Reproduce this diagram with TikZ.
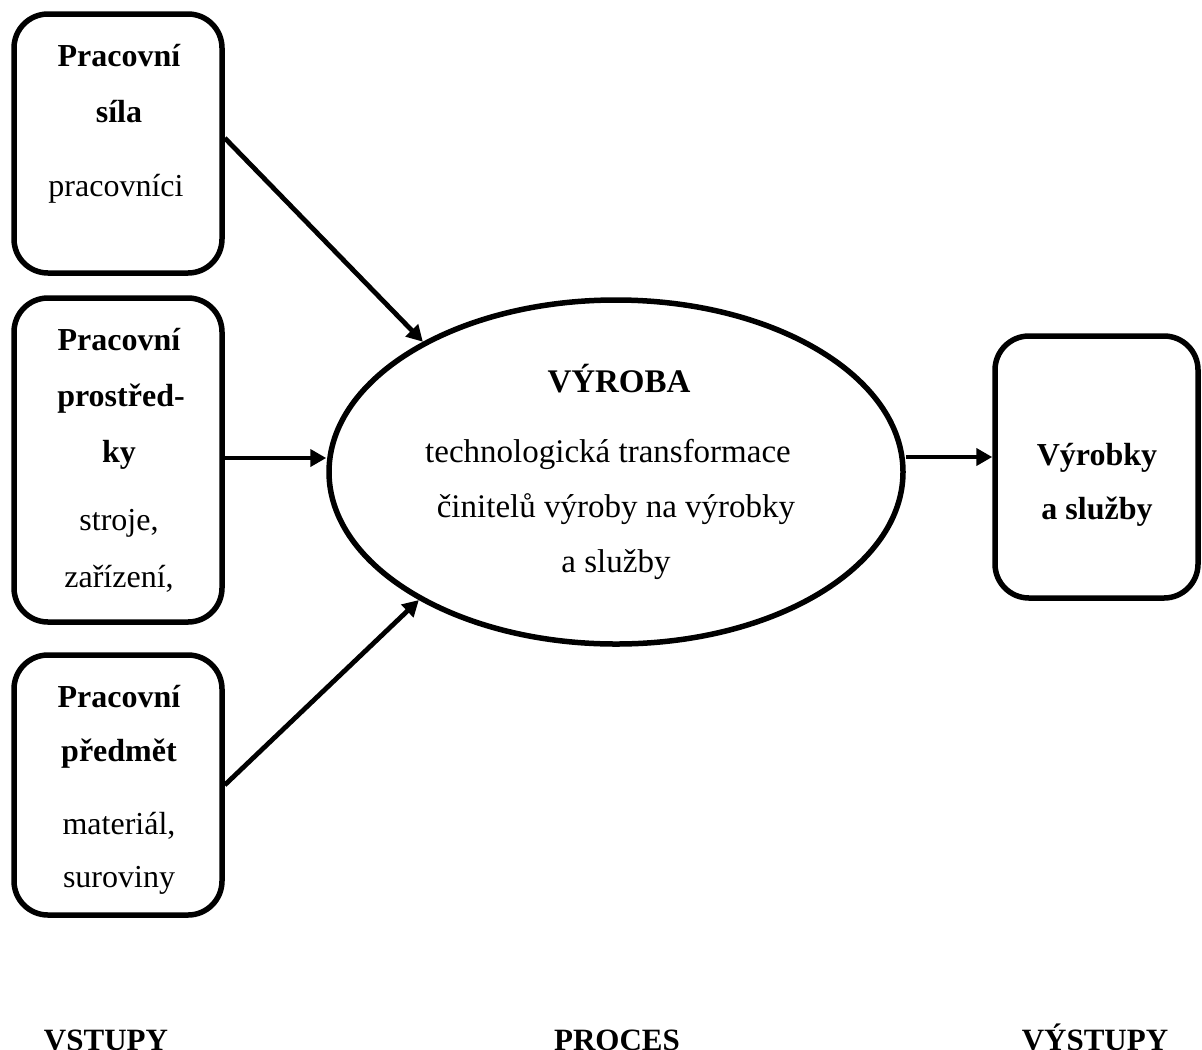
\documentclass[tikz,border=0pt]{standalone}
\usepackage{fontspec}
\setmainfont{Liberation Serif}
\usetikzlibrary{shapes.geometric,arrows.meta}
\begin{document}
\begin{tikzpicture}[x=0.5pt,y=-0.5pt,
  inbox/.style={draw,line width=2.75pt,rounded corners=17pt,inner sep=0pt},
  txt/.style={anchor=base,inner sep=0pt,font=\fontsize{16pt}{19pt}\selectfont},
  btxt/.style={txt,font=\fontsize{16pt}{19pt}\selectfont\bfseries},
  etxt/.style={anchor=base,inner sep=0pt,font=\fontsize{16.5pt}{19pt}\selectfont},
  foot/.style={anchor=base,inner sep=0pt,font=\fontsize{15.5pt}{18pt}\selectfont\bfseries},
  arr/.style={line width=2.4pt,-{Triangle[length=8pt,width=8.5pt]}}]
\fill[white] (0,0) rectangle (1202,1049);
\useasboundingbox (0,0) rectangle (1202,1049);

% input boxes
\node[inbox,minimum width=104pt,minimum height=129.5pt] (b1) at (118,143.5) {};
\node[inbox,minimum width=104pt,minimum height=162pt] (b2) at (118,460) {};
\node[inbox,minimum width=104pt,minimum height=130pt] (b3) at (118,785) {};
% output box
\node[inbox,minimum width=101.5pt,minimum height=131pt] (rb) at (1096.5,467) {};
% process
\node[draw,ellipse,line width=2.75pt,inner sep=0pt,minimum width=287pt,minimum height=172pt] (ell) at (616,472) {};

% texts of the boxes
\node[btxt] (b1a) at (119,66) {Pracovní};
\node[btxt] (b1b) at (119,122) {síla};
\node[txt]  (b1c) at (116,196) {pracovníci};

\node[btxt] (b2a) at (119,350) {Pracovní};
\node[btxt] (b2b) at (121,406) {prostřed-};
\node[btxt] (b2c) at (119,462) {ky};
\node[txt]  (b2d) at (119,530) {stroje,};
\node[txt]  (b2e) at (119,587) {zařízení,};

\node[btxt] (b3a) at (119,707) {Pracovní};
\node[btxt] (b3b) at (119,761) {předmět};
\node[txt]  (b3c) at (119,834) {materiál,};
\node[txt]  (b3d) at (119,887) {suroviny};

\node[btxt] (rba) at (1097,465) {Výrobky};
\node[btxt] (rbb) at (1097,519) {a služby};

\node[btxt,font=\fontsize{16.5pt}{19pt}\selectfont\bfseries] (ea) at (619,392) {VÝROBA};
\node[etxt] (eb) at (608,462) {technologická transformace};
\node[etxt] (ec) at (616,517) {činitelů výroby na výrobky};
\node[etxt] (ed) at (616,572) {a služby};

% column headings
\node[foot] (f1) at (106,1050) {VSTUPY};
\node[foot] (f2) at (617,1050) {PROCES};
\node[foot] (f3) at (1095,1050) {VÝSTUPY};

% connectors
\coordinate (s2) at ([yshift=1pt]b2.east);
\coordinate (s4) at ([yshift=7.5pt]ell.east);
\draw[arr] ([yshift=2.75pt]b1.east) -- (ell.146);
\draw[arr] (s2) -- (s2 -| ell.west);
\draw[arr] (b3.east) -- (ell.213.5);
\draw[arr] (s4) -- (s4 -| rb.west);
\end{tikzpicture}
\end{document}
